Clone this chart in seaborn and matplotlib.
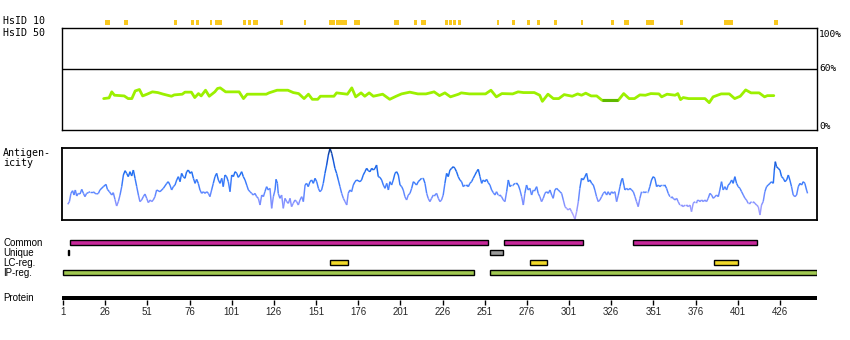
import numpy as np
import matplotlib
matplotlib.use("Agg")
import matplotlib.pyplot as plt
from matplotlib.collections import LineCollection
from matplotlib.colors import LinearSegmentedColormap
import seaborn as sns
import pandas as pd

sns.set_theme(style="white")
plt.rcParams["font.family"] = ["DejaVu Sans Mono", "DejaVu Sans"]

# ---------------- data ----------------
PROTEIN_LEN = 448
tick_residues = [1, 26, 51, 76, 101, 126, 151, 176, 201, 226, 251, 276, 301, 326, 351, 376, 401, 426]
pct_labels = ["100%", "60%", "0%"]
pct_values = [100, 60, 0]

hsid10_start = [25.9, 37.2, 66.8, 76.9, 79.8, 88.1, 91.1, 107.7, 110.7, 113.6, 129.6, 143.9,
                158.7, 162.8, 173.5, 197.2, 209.1, 213.2, 227.4, 229.8, 232.2, 235.1, 258.3,
                267.2, 276.0, 282.0, 292.0, 308.0, 325.8, 333.5, 346.6, 366.7, 392.8, 422.5]
hsid10_width = [3.0, 2.4, 1.8, 1.8, 1.8, 1.2, 4.2, 1.8, 1.8, 3.0, 1.8, 1.2,
                3.5, 6.5, 3.6, 3.0, 1.8, 3.0, 1.8, 1.8, 1.8, 1.8, 1.2,
                1.8, 1.8, 1.8, 1.8, 1.2, 1.8, 3.0, 4.7, 1.8, 5.4, 2.4]

hsid50_res = [25.1, 28.3, 29.9, 31.5, 37.3, 39.6, 41.8, 43.8, 46.3, 48.2, 50.8, 54.0, 57.2, 60.5,
              65.3, 66.9, 71.7, 73.3, 77.1, 79.1, 81.3, 82.9, 85.5, 87.7, 91.0, 92.6, 94.2, 97.4,
              105.4, 108.0, 110.2, 121.5, 123.1, 127.9, 134.3, 137.5, 140.7, 143.9, 146.5, 148.8,
              152.0, 153.6, 161.6, 163.2, 169.6, 172.2, 174.5, 177.7, 179.9, 182.5, 185.0, 190.5,
              194.7, 198.5, 201.7, 206.6, 211.4, 216.2, 221.0, 224.2, 227.4, 230.7, 235.5, 237.1,
              241.9, 251.5, 254.7, 257.9, 261.2, 267.6, 270.8, 274.0, 280.4, 283.6, 285.2, 288.5,
              291.7, 294.9, 298.1, 302.9, 306.1, 308.4, 310.9, 314.1, 317.4, 320.6, 330.2, 333.4,
              336.6, 339.8, 343.0, 346.3, 349.5, 354.3, 355.9, 359.1, 363.9, 365.5, 367.1, 368.7,
              371.9, 381.6, 384.1, 386.4, 391.2, 396.0, 399.2, 402.5, 405.7, 408.9, 413.7, 416.9,
              418.6, 422.4]
hsid50_pct = [30.8, 31.5, 37.4, 34.1, 33.4, 30.8, 30.8, 38.3, 39.7, 33.4, 35.1, 37.4, 36.7, 35.1,
              33.1, 34.4, 35.1, 37.1, 37.1, 31.8, 35.7, 33.4, 39.0, 33.1, 37.4, 40.7, 41.3, 37.4,
              37.4, 30.8, 35.1, 35.1, 36.4, 39.0, 39.0, 36.7, 35.7, 30.8, 35.1, 30.1,
              30.1, 33.1, 33.1, 36.4, 35.1, 41.3, 32.5, 36.4, 33.1, 36.4, 33.1, 35.1,
              30.1, 33.1, 35.4, 37.1, 35.4, 35.4, 37.4, 33.7, 36.4, 32.5, 35.1, 36.4,
              35.4, 35.4, 39.0, 32.5, 35.7, 35.4, 37.4, 36.7, 36.7, 34.1, 28.1, 35.1,
              30.8, 30.8, 34.7, 33.1, 35.4, 34.1, 36.1, 33.4, 33.4, 29.1, 29.1, 35.7,
              30.8, 30.8, 34.4, 34.1, 35.7, 35.4, 32.5, 35.1, 34.1, 35.7, 29.8, 31.8,
              30.8, 30.8, 26.8, 32.5, 35.4, 35.4, 30.8, 33.1, 39.3, 36.4, 36.4, 32.5,
              33.7, 33.7]
hsid50_dark_res = [320.6, 330.2]
hsid50_dark_pct = [29.1, 29.1]

ag_res = [3.8, 4.8, 5.7, 6.7, 7.5, 8.3, 9.1, 10.1, 11.1, 12.1, 13.1, 14.0, 15.0, 16.0, 17.0, 19.0,
          20.0, 21.0, 22.0, 22.9, 24.9, 26.5, 27.3, 28.5, 29.9, 30.8, 31.8, 32.8, 33.8, 34.8, 35.8,
          36.8, 37.8, 38.7, 39.7, 40.7, 41.7, 42.7, 43.7, 44.7, 45.7, 46.6, 47.6, 48.6, 49.6, 50.6,
          51.6, 52.6, 53.6, 54.5, 55.5, 56.5, 58.5, 60.5, 62.5, 63.4, 64.4, 65.4, 66.4, 67.4, 68.4,
          69.4, 70.4, 71.3, 72.3, 73.3, 74.3, 75.3, 76.3, 77.3, 78.3, 79.3, 80.2, 81.2, 82.2, 83.2,
          84.2, 85.2, 86.2, 87.2, 88.1, 89.1, 90.1, 91.1, 92.1, 93.1, 94.1, 95.1, 96.0, 97.0, 98.0,
          99.0, 100.0, 101.0, 102.0, 103.0, 104.0, 104.9, 105.9, 106.9, 107.9, 108.9, 109.9, 110.9,
          111.9, 112.8, 113.8, 114.8, 115.8, 116.8, 117.8, 118.8, 119.8, 120.7, 121.7, 122.7, 123.7,
          124.7, 125.7, 126.7, 127.3, 128.1, 128.6, 129.6, 130.6, 131.6, 132.6, 133.6, 134.6, 135.6,
          136.5, 137.5, 138.5, 139.5, 140.5, 141.5, 142.5, 143.5, 144.5, 145.4, 146.4, 147.4, 148.4,
          149.4, 150.4, 151.4, 152.4, 153.3, 154.3, 155.3, 156.3, 157.3, 158.3, 159.3, 160.3, 161.2,
          162.2, 163.2, 164.2, 165.2, 166.2, 167.2, 168.2, 169.2, 170.1, 171.1, 172.1, 173.1, 174.1,
          175.1, 177.1, 178.0, 179.0, 180.0, 181.0, 182.0, 183.0, 184.0, 185.0, 186.0, 186.9, 187.9,
          188.9, 189.9, 190.9, 191.9, 192.9, 193.9, 194.8, 195.8, 196.8, 197.8, 198.8, 199.8, 200.8,
          201.8, 202.7, 203.7, 204.7, 205.7, 206.7, 207.7, 208.7, 209.7, 210.6, 211.6, 212.6, 213.6,
          214.6,
          215.6, 216.6, 217.5, 218.5, 219.5, 220.5, 221.5, 222.5, 223.5, 224.5, 225.4, 226.4, 227.4,
          228.4, 229.4, 230.4, 231.4, 232.4, 233.3, 234.3, 235.3, 236.3, 237.3, 238.3, 239.3, 240.3,
          241.3, 242.2, 243.2, 244.2, 245.2, 246.2, 247.2, 248.2, 249.2, 250.1, 251.1, 252.1, 253.1,
          254.1, 255.1, 256.1, 257.1, 258.0, 259.0, 260.0, 261.0, 262.0, 263.0, 264.0, 265.0, 266.0,
          266.9, 267.9, 268.9, 269.9, 270.9, 271.9, 272.9, 273.9, 274.8, 275.8, 276.8, 277.8, 278.8,
          279.8, 280.8, 281.8, 282.7, 283.7, 284.7, 285.7, 286.7, 287.7, 288.7, 289.7, 290.7, 291.6,
          292.6, 293.6, 294.6, 295.6, 296.6, 297.6, 298.6, 299.5, 300.5, 301.5, 302.5, 303.5, 304.5,
          305.5, 306.5, 307.4, 308.4, 309.4, 310.4, 311.4, 312.4, 313.4, 314.4, 315.4, 316.3, 317.3,
          318.3, 319.3, 320.3, 321.3, 322.3, 323.3, 324.2, 325.2, 326.2, 327.2, 328.2, 329.2, 330.2,
          331.2, 332.1, 332.7, 333.5, 334.1, 335.1, 336.1, 337.1, 338.1, 339.1, 340.1, 341.0, 342.0,
          343.0, 344.0, 345.0, 346.0, 347.0, 348.0, 348.9, 349.9, 350.9, 351.9, 352.9, 353.9, 354.9,
          355.9, 356.9, 357.8, 358.8, 359.8, 360.8, 361.8, 362.8, 363.8, 364.8, 365.7, 366.7, 367.7,
          368.7, 369.7, 370.7, 371.7, 372.7, 373.6, 374.6, 375.6, 376.6, 377.6, 378.6, 379.6, 380.6,
          381.5, 382.5, 383.5, 384.5, 385.5, 386.5, 387.5, 388.5, 389.5, 390.4, 391.4, 392.4, 393.4,
          394.4, 395.4, 396.4, 397.4, 398.3, 399.3, 400.3, 401.3, 402.3, 403.3, 404.3, 405.3, 406.2,
          407.2, 408.2, 409.2, 410.2, 411.2, 412.2, 413.2, 414.2, 415.1, 416.1, 417.1, 418.1, 419.1,
          420.1, 421.1, 422.1, 422.7, 423.3, 424.0, 425.0, 426.0, 427.0, 428.0, 429.0, 430.0, 431.0,
          431.9, 432.9, 433.9, 434.9, 435.9, 436.9, 437.9, 438.9, 439.8, 440.8, 441.8, 442.4]
ag_val = [0.218, 0.255, 0.370, 0.407, 0.347, 0.417, 0.333, 0.370, 0.361, 0.426, 0.370, 0.324, 0.370,
          0.380, 0.393, 0.393, 0.370, 0.361, 0.370, 0.417, 0.463, 0.495, 0.426, 0.393, 0.347, 0.380,
          0.287, 0.194, 0.255, 0.347, 0.463, 0.625, 0.685, 0.648, 0.602, 0.671, 0.611, 0.694, 0.579,
          0.463, 0.347, 0.255, 0.278, 0.324, 0.361, 0.301, 0.241, 0.278, 0.255, 0.278, 0.324, 0.417,
          0.393, 0.440, 0.509, 0.532, 0.486, 0.417, 0.463, 0.486, 0.556, 0.602, 0.532, 0.648, 0.602,
          0.579, 0.671, 0.694, 0.648, 0.671, 0.579, 0.509, 0.565, 0.509, 0.417, 0.370, 0.393, 0.370,
          0.393, 0.370, 0.324, 0.417, 0.509, 0.602, 0.648, 0.556, 0.509, 0.579, 0.463, 0.625, 0.602,
          0.532, 0.393, 0.625, 0.602, 0.671, 0.648, 0.592, 0.625, 0.671, 0.602, 0.556, 0.486, 0.417,
          0.393, 0.370, 0.347, 0.370, 0.324, 0.301, 0.208, 0.347, 0.324, 0.393, 0.463, 0.417, 0.440,
          0.162, 0.324, 0.417, 0.565, 0.509, 0.370, 0.301, 0.347, 0.162, 0.301, 0.255, 0.231, 0.301,
          0.185, 0.231, 0.278, 0.255, 0.208, 0.278, 0.324, 0.255, 0.486, 0.509, 0.463, 0.532, 0.556,
          0.509, 0.579, 0.532, 0.440, 0.393, 0.417, 0.509, 0.648, 0.764, 0.903, 0.995, 0.926, 0.833,
          0.718, 0.648, 0.556, 0.463, 0.370, 0.301, 0.255, 0.208, 0.370, 0.417, 0.393, 0.486, 0.532,
          0.556, 0.532, 0.556, 0.625, 0.671, 0.718, 0.685, 0.671, 0.718, 0.694, 0.718, 0.764, 0.602,
          0.592, 0.556, 0.486, 0.440, 0.509, 0.417, 0.532, 0.486, 0.556, 0.648, 0.671, 0.625, 0.486,
          0.463, 0.417, 0.324, 0.278, 0.347, 0.370, 0.440, 0.532, 0.509, 0.486, 0.532, 0.556, 0.579,
          0.579,
          0.509, 0.370, 0.301, 0.255, 0.301, 0.347, 0.347, 0.370, 0.301, 0.255, 0.278, 0.347, 0.509,
          0.648, 0.602, 0.694, 0.718, 0.741, 0.718, 0.671, 0.602, 0.556, 0.532, 0.463, 0.486, 0.486,
          0.463, 0.509, 0.532, 0.579, 0.625, 0.671, 0.704, 0.602, 0.509, 0.556, 0.532, 0.565, 0.518,
          0.486, 0.417, 0.380, 0.347, 0.393, 0.347, 0.347, 0.324, 0.278, 0.255, 0.393, 0.556, 0.463,
          0.486, 0.486, 0.509, 0.509, 0.486, 0.417, 0.324, 0.208, 0.370, 0.486, 0.417, 0.440, 0.347,
          0.417, 0.417, 0.463, 0.370, 0.324, 0.255, 0.301, 0.370, 0.393, 0.370, 0.417, 0.347, 0.301,
          0.417, 0.440, 0.417, 0.393, 0.370, 0.278, 0.185, 0.162, 0.139, 0.162, 0.116, 0.069, 0.009,
          0.116, 0.255, 0.440, 0.579, 0.556, 0.602, 0.648, 0.532, 0.556, 0.509, 0.486, 0.417, 0.324,
          0.255, 0.278, 0.324, 0.370, 0.393, 0.347, 0.393, 0.347, 0.393, 0.370, 0.393, 0.255, 0.347,
          0.463, 0.556, 0.579, 0.486, 0.417, 0.440, 0.417, 0.440, 0.417, 0.393, 0.324, 0.255, 0.185,
          0.301, 0.393, 0.393, 0.380, 0.393, 0.393, 0.463, 0.556, 0.602, 0.579, 0.463, 0.486, 0.463,
          0.486, 0.486, 0.486, 0.440, 0.370, 0.324, 0.324, 0.301, 0.278, 0.301, 0.255, 0.208, 0.208,
          0.185, 0.208, 0.208, 0.185, 0.208, 0.116, 0.231, 0.255, 0.255, 0.278, 0.255, 0.278, 0.255,
          0.278, 0.255, 0.301, 0.370, 0.347, 0.301, 0.324, 0.347, 0.324, 0.417, 0.532, 0.417, 0.463,
          0.417, 0.486, 0.509, 0.556, 0.509, 0.602, 0.509, 0.463, 0.440, 0.393, 0.347, 0.301, 0.278,
          0.231, 0.231, 0.255, 0.255, 0.231, 0.208, 0.185, 0.069, 0.208, 0.255, 0.393, 0.463, 0.486,
          0.509, 0.532, 0.509, 0.694, 0.810, 0.741, 0.718, 0.694, 0.602, 0.579, 0.532, 0.556, 0.625,
          0.556, 0.463, 0.347, 0.324, 0.347, 0.463, 0.509, 0.486, 0.532, 0.509, 0.417, 0.370]

common_start = [5.1, 262.4, 338.9]
common_end = [252.9, 309.2, 412.4]
unique_start = [4.0, 254.1]
unique_end = [4.6, 261.8]
lc_start = [159.3, 277.8, 386.9]
lc_end = [170.0, 287.9, 401.1]
ip_start = [1.0, 254.1]
ip_end = [244.6, 448.0]

track_names = ["Common", "Unique", "LC-reg.", "IP-reg."]

# ---------------- layout helpers ----------------
W, H = 850, 340
def box(x0, y0, x1, y1):
    return [x0 / W, 1 - y1 / H, (x1 - x0) / W, (y1 - y0) / H]

XL = (0.4, PROTEIN_LEN)
X0, X1 = 62, 817

fig = plt.figure(figsize=(8.5, 3.4), dpi=100)
fig.patch.set_facecolor("white")

mono = ["DejaVu Sans Mono", "DejaVu Sans"]
narrow = ["Liberation Sans Narrow", "Liberation Sans", "DejaVu Sans"]

# ---------------- HsID 10 marks ----------------
ax10 = fig.add_axes(box(X0, 20, X1, 25))
ax10.bar(hsid10_start, [1] * len(hsid10_start), width=hsid10_width, align="edge",
         color="#f9c81e", edgecolor="none", linewidth=0)
ax10.set_xlim(*XL)
ax10.set_ylim(0, 1)
ax10.axis("off")

# ---------------- HsID 50 panel ----------------
ax50 = fig.add_axes(box(X0, 28, X1, 130))
ax50.set_xlim(*XL)
ax50.set_ylim(0, 100)
df50 = pd.DataFrame({"res": hsid50_res, "pct": hsid50_pct})
sns.lineplot(data=df50, x="res", y="pct", ax=ax50, color="#9cf000", linewidth=2.0,
             estimator=None, sort=False, legend=False)
ax50.plot(hsid50_dark_res, hsid50_dark_pct, color="#5fb800", linewidth=2.2, solid_capstyle="butt")
ax50.axhline(60, color="black", linewidth=1.0)
for s in ["left", "top", "bottom", "right"]:
    ax50.spines[s].set_visible(True)
    ax50.spines[s].set_color("black")
    ax50.spines[s].set_linewidth(1.0)
ax50.set_xticks([])
ax50.set_yticks([])
ax50.set_xlabel("")
ax50.set_ylabel("")
pct_va = {100: "top", 60: "center", 0: "center"}
pct_dy = {100: -1.5, 60: 0, 0: 3}
for lab_, v in zip(pct_labels, pct_values):
    ax50.text(1.003, v + pct_dy[v], lab_, transform=ax50.get_yaxis_transform(), ha="left",
              va=pct_va[v], fontsize=6.8, family=mono, color="black", clip_on=False)

# ---------------- Antigenicity panel ----------------
axag = fig.add_axes(box(X0, 148, X1, 220))
axag.set_xlim(*XL)
axag.set_ylim(0, 1.0)
cmap = LinearSegmentedColormap.from_list(
    "ag", [(0.0, "#b8a8ff"), (0.25, "#8290ff"), (0.45, "#4a82ff"), (0.65, "#1f6ef2"),
           (0.85, "#1050d0"), (1.0, "#0a3a8c")])
pts = np.column_stack([ag_res, ag_val])
segs = np.stack([pts[:-1], pts[1:]], axis=1)
mid = (np.array(ag_val[:-1]) + np.array(ag_val[1:])) / 2
lc = LineCollection(segs, cmap=cmap, norm=plt.Normalize(0, 1), linewidth=1.05)
lc.set_array(mid)
axag.add_collection(lc)
for s in ["left", "top", "bottom", "right"]:
    axag.spines[s].set_visible(True)
    axag.spines[s].set_color("black")
    axag.spines[s].set_linewidth(1.3)
axag.set_xticks([])
axag.set_yticks([])

# ---------------- Feature tracks ----------------
axtr = fig.add_axes(box(X0, 235, X1, 280))
axtr.set_xlim(*XL)
axtr.set_ylim(280, 235)
axtr.axis("off")
def track(starts, ends, yc, color):
    axtr.barh([yc] * len(starts), [e - s for s, e in zip(starts, ends)], left=starts,
              height=4.6, color=color, edgecolor="black", linewidth=1.0)
track(common_start, common_end, 242.5, "#c8289b")
track(unique_start, unique_end, 252.5, "#999999")
track(lc_start, lc_end, 262.5, "#f0d828")
track(ip_start, ip_end, 272.5, "#a0c850")

# ---------------- Protein axis ----------------
axp = fig.add_axes(box(X0, 296, X1, 300))
axp.set_xlim(*XL)
axp.set_ylim(0, 1)
axp.axhspan(0, 1, color="black")
for s in ["left", "top", "right", "bottom"]:
    axp.spines[s].set_visible(False)
axp.set_yticks([])
axp.set_xticks(tick_residues)
axp.set_xticklabels([str(t) for t in tick_residues], family=narrow, fontsize=7)
axp.tick_params(axis="x", direction="out", length=3.5, width=1, color="black", pad=1.5,
                bottom=True)
axp.set_facecolor("white")

# ---------------- Left labels ----------------
def lab(x, y, s, fam, size):
    fig.text(x / W, 1 - y / H, s, ha="left", va="center", family=fam, fontsize=size, color="black")
lab(3, 21.5, "HsID 10", mono, 7.2)
lab(3, 33, "HsID 50", mono, 7.2)
lab(3, 153, "Antigen-", mono, 7.2)
lab(3, 163, "icity", mono, 7.2)
for name, yc in zip(track_names, [242.5, 252.5, 262.5, 272.5]):
    lab(3, yc, name, narrow, 7)
lab(3, 298, "Protein", narrow, 7)

fig.savefig("out.png", dpi=100, facecolor="white")
